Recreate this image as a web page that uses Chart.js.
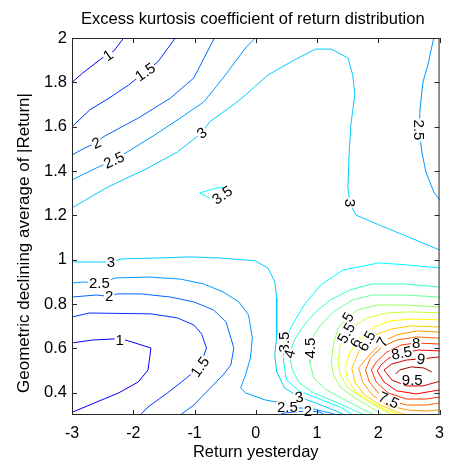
<!DOCTYPE html>
<html>
<head>
<meta charset="utf-8">
<script src="https://cdn.jsdelivr.net/npm/chart.js@4.4.1/dist/chart.umd.min.js"></script>
<style>
  html, body { margin: 0; padding: 0; background: #fff; }
  #wrap { width: 453px; height: 464px; }
</style>
</head>
<body>
<div id="wrap"><canvas id="c" width="453" height="464"></canvas></div>
<script>
// Axis ticks
const xTicks = [-3, -2, -1, 0, 1, 2, 3];
const xTickLabels = ["-3", "-2", "-1", "0", "1", "2", "3"];
const yTicks = [0.4, 0.6, 0.8, 1, 1.2, 1.4, 1.6, 1.8, 2];
const yTickLabels = ["0.4", "0.6", "0.8", "1", "1.2", "1.4", "1.6", "1.8", "2"];

// Contour levels of the excess kurtosis surface
const levels = [1, 1.5, 2, 2.5, 3, 3.5, 4, 4.5, 5, 5.5, 6, 6.5, 7, 7.5, 8, 8.5, 9, 9.5];

// Contour polylines, [return yesterday, declining average]
const k1Upper = [[-3,1.80],[-2.825,1.842],[-2.507,1.910],[-2.411,1.923],[-2.316,1.942],[-2.156,2.0]];
const k1Lower = [[-3,0.625],[-2.666,0.638],[-2.316,0.643],[-2.220,0.640],[-2.125,0.638],[-1.711,0.602],[-1.759,0.503],[-1.918,0.449],[-2.236,0.400],[-2.714,0.345],[-3,0.312]];
const k15Upper = [[-3,1.60],[-2.714,1.675],[-2.395,1.729],[-2.077,1.788],[-1.806,1.847],[-1.599,1.892],[-1.313,2.0]];
const k15Lower = [[-3,0.742],[-2.714,0.760],[-1.711,0.756],[-1.281,0.738],[-1.011,0.706],[-0.883,0.665],[-0.804,0.602],[-0.915,0.517],[-1.170,0.458],[-1.44,0.400],[-1.759,0.336],[-1.886,0.30]];
const k2Upper = [[-3,1.472],[-2.793,1.504],[-2.602,1.527],[-2.491,1.554],[-1.918,1.639],[-1.393,1.729],[-1.011,1.820],[-0.676,2.0]];
const k2Lower = [[-3,0.832],[-2.602,0.841],[-2.395,0.835],[-2.268,0.846],[-1.870,0.846],[-1.393,0.832],[-1.011,0.810],[-0.692,0.774],[-0.485,0.720],[-0.437,0.674],[-0.358,0.602],[-0.406,0.526],[-0.533,0.481],[-0.804,0.404],[-1.011,0.345],[-1.233,0.30]];
const k2Dip = [[0.374,0.30],[0.470,0.309],[0.629,0.314],[0.852,0.318],[1.043,0.314],[1.122,0.30]];
const k25Upper = [[-3,1.360],[-2.602,1.414],[-2.316,1.450],[-2.045,1.495],[-1.647,1.563],[-1.233,1.639],[-0.851,1.711],[-0.533,1.820],[-0.167,1.955],[-0.008,2.0]];
const k25Right = [[2.905,2.0],[2.809,1.878],[2.730,1.802],[2.682,1.684],[2.666,1.585],[2.714,1.482],[2.777,1.396],[2.905,1.306],[3.0,1.270]];
const k25Lower = [[-3,0.895],[-2.825,0.900],[-2.554,0.895],[-2.284,0.918],[-1.759,0.922],[-1.233,0.913],[-0.851,0.891],[-0.533,0.855],[-0.278,0.810],[-0.119,0.751],[-0.056,0.647],[-0.087,0.557],[-0.167,0.481],[-0.247,0.422],[-0.167,0.400],[0.151,0.368],[0.422,0.354],[0.517,0.336],[0.947,0.327],[1.345,0.30]];
const k3Upper = [[-3,1.234],[-2.443,1.324],[-1.759,1.414],[-1.281,1.486],[-0.883,1.572],[-0.756,1.621],[-0.326,1.707],[-0.167,1.743],[0.199,1.833],[0.629,1.901],[0.979,1.950],[1.234,1.950],[1.504,1.910],[1.584,1.833],[1.616,1.743],[1.552,1.608],[1.520,1.459],[1.504,1.324],[1.536,1.256],[1.632,1.202],[2.013,1.157],[2.491,1.103],[3.0,1.044]];
const k3Lower = [[-3,0.990],[-2.554,0.990],[-2.363,0.990],[-2.188,1.004],[-1.599,1.008],[-1.074,1.013],[-0.597,1.008],[-0.167,0.999],[-0.008,0.995],[0.199,0.963],[0.311,0.900],[0.342,0.828],[0.342,0.661],[0.311,0.571],[0.342,0.494],[0.470,0.422],[0.629,0.395],[0.708,0.381],[0.979,0.354],[1.265,0.323],[1.456,0.30]];
const k35Island = [[-0.485,1.328],[-0.644,1.324],[-0.915,1.301],[-0.756,1.279]];
const k35Peak = [[3.0,0.963],[2.491,0.976],[2.014,0.986],[1.425,0.954],[1.059,0.886],[0.788,0.796],[0.597,0.706],[0.454,0.629],[0.454,0.539],[0.502,0.458],[0.708,0.409],[1.074,0.368],[1.377,0.336],[1.584,0.30]];
const k4Peak = [[3.0,0.877],[2.427,0.891],[1.903,0.891],[1.536,0.864],[1.218,0.819],[0.979,0.765],[0.788,0.706],[0.629,0.638],[0.549,0.575],[0.597,0.503],[0.708,0.445],[0.947,0.400],[1.345,0.354],[1.775,0.30]];
const k45Peak = [[3.0,0.832],[2.427,0.841],[1.903,0.841],[1.584,0.819],[1.265,0.765],[1.059,0.706],[0.915,0.647],[0.883,0.602],[0.883,0.535],[0.947,0.467],[1.154,0.413],[1.456,0.368],[1.712,0.332],[1.934,0.30]];
const k5Peak = [[3.0,0.787],[2.459,0.796],[1.982,0.796],[1.664,0.774],[1.504,0.742],[1.345,0.693],[1.265,0.616],[1.234,0.539],[1.265,0.481],[1.393,0.422],[1.616,0.377],[1.871,0.336],[2.077,0.30]];
const k55Peak = [[3.0,0.760],[2.539,0.765],[2.141,0.760],[1.823,0.738],[1.616,0.702],[1.472,0.670],[1.377,0.616],[1.345,0.539],[1.377,0.481],[1.504,0.422],[1.744,0.377],[1.998,0.336],[2.220,0.30]];
const k6Peak = [[3.0,0.729],[2.539,0.733],[2.189,0.724],[1.934,0.697],[1.775,0.661],[1.632,0.625],[1.520,0.571],[1.456,0.512],[1.504,0.458],[1.632,0.404],[1.871,0.359],[2.125,0.323],[2.348,0.30]];
const k65Peak = [[3.0,0.697],[2.539,0.702],[2.220,0.688],[1.982,0.665],[1.807,0.634],[1.680,0.584],[1.568,0.512],[1.616,0.449],[1.775,0.390],[2.030,0.345],[2.300,0.314],[2.475,0.30]];
const k7Peak = [[3.0,0.674],[2.618,0.679],[2.300,0.661],[2.061,0.629],[1.871,0.575],[1.680,0.512],[1.744,0.449],[1.903,0.390],[2.141,0.345],[2.459,0.323],[2.777,0.318],[3.0,0.323]];
const k75Peak = [[3.0,0.647],[2.618,0.652],[2.300,0.638],[2.061,0.607],[1.871,0.557],[1.791,0.503],[1.855,0.449],[1.998,0.400],[2.173,0.368],[2.459,0.345],[2.777,0.345],[3.0,0.354]];
const k8Peak = [[3.0,0.620],[2.618,0.625],[2.380,0.616],[2.141,0.584],[1.966,0.539],[1.887,0.503],[1.966,0.449],[2.157,0.400],[2.459,0.372],[2.777,0.372],[3.0,0.381]];
const k85Peak = [[3.0,0.589],[2.666,0.593],[2.380,0.580],[2.173,0.557],[2.046,0.526],[1.982,0.499],[2.093,0.449],[2.300,0.409],[2.618,0.395],[3.0,0.413]];
const k9Peak = [[3.0,0.562],[2.698,0.553],[2.459,0.548],[2.220,0.530],[2.093,0.503],[2.220,0.458],[2.459,0.431],[2.730,0.431],[3.0,0.452]];
const k95Peak = [[2.284,0.485],[2.348,0.503],[2.539,0.517],[2.745,0.512],[2.873,0.494]];

// Inline level labels: [level, x, y]
const contourLabels = [
  [1, -2.411, 1.923], [1.5, -1.806, 1.847], [2, -2.602, 1.527], [2.5, -2.316, 1.450],
  [3, -0.883, 1.572], [3.5, -0.549, 1.292], [3, 1.536, 1.256], [2.5, 2.666, 1.585],
  [3, -2.363, 0.990], [2.5, -2.554, 0.895], [2, -2.395, 0.835], [1, -2.220, 0.640],
  [1.5, -0.915, 0.517], [3.5, 0.454, 0.629], [4, 0.549, 0.575], [4.5, 0.883, 0.602],
  [5, 1.504, 0.742], [5.5, 1.472, 0.670], [6, 1.632, 0.625], [6.5, 1.807, 0.634],
  [7, 2.061, 0.629], [7.5, 2.173, 0.368], [8, 2.618, 0.625], [8.5, 2.380, 0.580],
  [9, 2.698, 0.553], [9.5, 2.555, 0.458], [3, 0.708, 0.381], [2.5, 0.517, 0.336],
  [2, 0.852, 0.318]
];
// Text rotation of each inline label, degrees
const labelAngles = [-35, -35, -25, -25, -35, -35, 90, 90, 0, 0, 0, 0, -55, -90, -75, -90,
  -60, -60, -60, -60, -60, 25, 0, -10, 10, 0, -10, 0, 0];

const paths = [
  [1, k1Upper], [1, k1Lower], [1.5, k15Upper], [1.5, k15Lower],
  [2, k2Upper], [2, k2Lower], [2, k2Dip],
  [2.5, k25Upper], [2.5, k25Right], [2.5, k25Lower],
  [3, k3Upper], [3, k3Lower], [3.5, k35Island], [3.5, k35Peak],
  [4, k4Peak], [4.5, k45Peak], [5, k5Peak], [5.5, k55Peak], [6, k6Peak],
  [6.5, k65Peak], [7, k7Peak], [7.5, k75Peak], [8, k8Peak], [8.5, k85Peak],
  [9, k9Peak], [9.5, k95Peak]
];

// jet colormap lookup for a contour level
function jet(level) {
  const t = 0.125 + (level - levels[0]) * 0.1;
  const ch = v => Math.round(255 * Math.max(0, Math.min(1, 1.5 - Math.abs(v))));
  return `rgb(${ch(4 * t - 3)},${ch(4 * t - 2)},${ch(4 * t - 1)})`;
}

const FONT = '"Liberation Sans", Arial, sans-serif';

const datasets = paths.map(([lev, pts]) => ({
  data: pts.map(([x, y]) => ({ x, y })),
  showLine: true,
  pointRadius: 0,
  borderColor: jet(lev),
  borderWidth: 1,
  tension: 0,
  fill: false
}));

// Inline labels, box frame with inward ticks, title and y-axis caption
const contourDecor = {
  id: 'contourDecor',
  afterDatasetsDraw(chart) {
    const { ctx, chartArea: a, scales: { x, y } } = chart;
    ctx.save();
    ctx.font = '15px ' + FONT;
    ctx.textAlign = 'center';
    ctx.textBaseline = 'middle';
    contourLabels.forEach(([lev, vx, vy], i) => {
      const txt = String(lev);
      ctx.save();
      ctx.translate(x.getPixelForValue(vx), y.getPixelForValue(vy));
      ctx.rotate(labelAngles[i] * Math.PI / 180);
      const w = ctx.measureText(txt).width;
      ctx.fillStyle = '#fff';
      ctx.fillRect(-w / 2 - 1, -5, w + 2, 10);
      ctx.fillStyle = '#000';
      ctx.fillText(txt, 0, 1);
      ctx.restore();
    });
    ctx.restore();

    ctx.save();
    ctx.strokeStyle = '#262626';
    ctx.lineWidth = 1;
    ctx.strokeRect(a.left + 0.5, a.top + 0.5, a.right - a.left - 1, a.bottom - a.top - 1);
    ctx.beginPath();
    const tl = 5;
    xTicks.forEach(v => {
      const px = Math.round(x.getPixelForValue(v)) + 0.5;
      ctx.moveTo(px, a.bottom); ctx.lineTo(px, a.bottom - tl);
      ctx.moveTo(px, a.top); ctx.lineTo(px, a.top + tl);
    });
    yTicks.forEach(v => {
      const py = Math.round(y.getPixelForValue(v)) + 0.5;
      ctx.moveTo(a.left, py); ctx.lineTo(a.left + tl, py);
      ctx.moveTo(a.right, py); ctx.lineTo(a.right - tl, py);
    });
    ctx.stroke();
    ctx.restore();
  },
  afterDraw(chart) {
    const { ctx, chartArea: a } = chart;
    ctx.save();
    ctx.fillStyle = '#000';
    ctx.textAlign = 'center';
    ctx.textBaseline = 'middle';
    ctx.font = '16.5px ' + FONT;
    ctx.fillText('Excess kurtosis coefficient of return distribution', (a.left + a.right) / 2 - 3, 19);
    ctx.font = '17px ' + FONT;
    ctx.translate(24, 243);
    ctx.rotate(-Math.PI / 2);
    ctx.fillText('Geometric declining average of |Return|', 0, 0);
    ctx.restore();
  }
};

new Chart(document.getElementById('c'), {
  type: 'scatter',
  data: { datasets },
  options: {
    responsive: false,
    devicePixelRatio: 1,
    animation: false,
    events: [],
    layout: { padding: { top: 38, right: 4, left: 0, bottom: 0 } },
    plugins: { legend: { display: false }, tooltip: { enabled: false }, title: { display: false } },
    scales: {
      x: {
        type: 'linear', min: -3, max: 3,
        afterBuildTicks: s => { s.ticks = xTicks.map(v => ({ value: v })); },
        afterFit: s => { s.height = 49; },
        grid: { display: false, drawTicks: false },
        border: { display: false },
        ticks: {
          padding: 9, color: '#000', font: { family: FONT, size: 16 },
          callback: (v) => xTickLabels[xTicks.indexOf(v)]
        },
        title: { display: true, text: 'Return yesterday', color: '#000', font: { family: FONT, size: 16.5 }, padding: { top: 0, bottom: 2 } }
      },
      y: {
        type: 'linear', min: 0.3, max: 2,
        afterBuildTicks: s => { s.ticks = yTicks.map(v => ({ value: v })); },
        afterFit: s => { s.width = 72; },
        grid: { display: false, drawTicks: false },
        border: { display: false },
        ticks: {
          padding: 5, color: '#000', font: { family: FONT, size: 16.5 },
          callback: (v) => yTickLabels[yTicks.findIndex(t => Math.abs(t - v) < 1e-9)]
        }
      }
    }
  },
  plugins: [contourDecor]
});
</script>
</body>
</html>
